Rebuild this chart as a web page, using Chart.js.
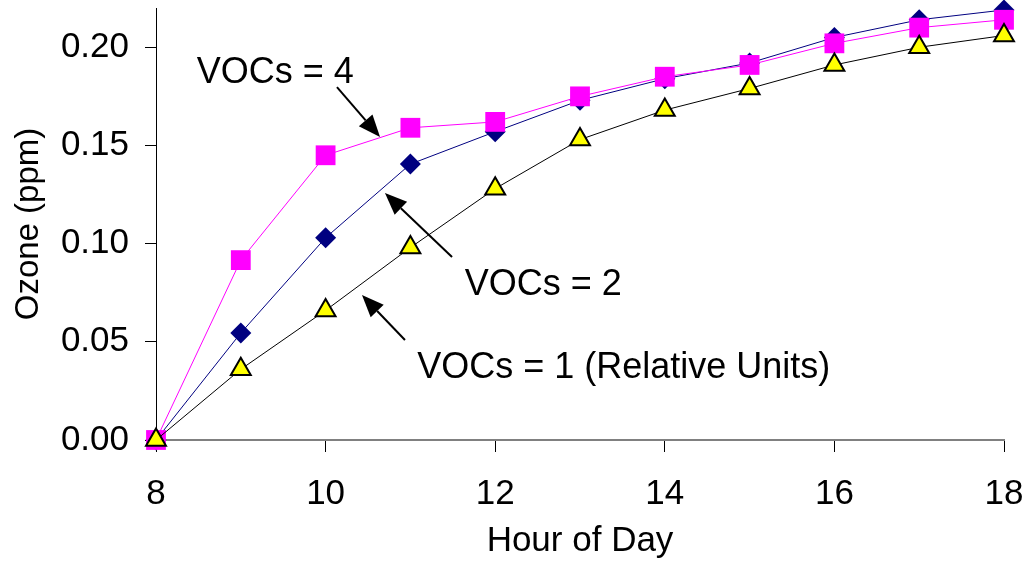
<!DOCTYPE html>
<html>
<head>
<meta charset="utf-8">
<script src="https://cdn.jsdelivr.net/npm/chart.js@4/dist/chart.umd.min.js"></script>
<style>
  html, body { margin: 0; padding: 0; background: #fff; }
  #wrap { width: 1031px; height: 563px; position: relative; }
</style>
</head>
<body>
<div id="wrap"><canvas id="myChart"></canvas></div>
<script>
// data
var hours = [8, 9, 10, 11, 12, 13, 14, 15, 16, 17, 18];
var voc1 = [0, 0.036, 0.066, 0.098, 0.128, 0.153, 0.168, 0.179, 0.191, 0.200, 0.206];
var voc2 = [0, 0.0545, 0.103, 0.1405, 0.157, 0.173, 0.184, 0.192, 0.205, 0.214, 0.219];
var voc4 = [0, 0.0916, 0.145, 0.159, 0.162, 0.175, 0.185, 0.191, 0.202, 0.210, 0.214];
var yTicks = [0, 0.05, 0.10, 0.15, 0.20];

var toPoints = function (ys) {
    return hours.map(function (h, i) { return { x: h, y: ys[i] }; });
};

// text labels with arrows (in data units)
var notes = [
    { text: 'VOCs = 4', x: 8.48, y: 0.1817, from: [10.134, 0.1797], to: [10.642, 0.1543] },
    { text: 'VOCs = 2', x: 11.64, y: 0.0738, from: [11.491, 0.0932], to: [10.70, 0.1258] },
    { text: 'VOCs = 1 (Relative Units)', x: 11.08, y: 0.0316, from: [10.936, 0.0509], to: [10.429, 0.0738] }
];

var notesPlugin = {
    id: 'notes',
    afterDraw: function (chart) {
        var c = chart.ctx, sx = chart.scales.x, sy = chart.scales.y;
        c.save();
        c.fillStyle = '#000';
        c.strokeStyle = '#000';
        c.font = '36px "Liberation Sans", Arial, sans-serif';
        c.textBaseline = 'alphabetic';
        c.textAlign = 'left';
        notes.forEach(function (n) {
            c.fillText(n.text, sx.getPixelForValue(n.x), sy.getPixelForValue(n.y));
            var x1 = sx.getPixelForValue(n.from[0]), y1 = sy.getPixelForValue(n.from[1]);
            var x2 = sx.getPixelForValue(n.to[0]), y2 = sy.getPixelForValue(n.to[1]);
            var a = Math.atan2(y2 - y1, x2 - x1);
            var hl = 22, hw = 9;
            var bx = x2 - hl * Math.cos(a), by = y2 - hl * Math.sin(a);
            c.lineWidth = 2;
            c.beginPath();
            c.moveTo(x1, y1);
            c.lineTo(bx, by);
            c.stroke();
            c.beginPath();
            c.moveTo(x2, y2);
            c.lineTo(bx + hw * Math.sin(a), by - hw * Math.cos(a));
            c.lineTo(bx - hw * Math.sin(a), by + hw * Math.cos(a));
            c.closePath();
            c.fill();
        });
        c.restore();
    }
};

Chart.defaults.font.family = '"Liberation Sans", Arial, sans-serif';
Chart.defaults.color = '#000';

var ctx = document.getElementById('myChart').getContext('2d');
var myChart = new Chart(ctx, {
    type: 'line',
    data: {
        datasets: [
            {
                label: 'VOCs = 1',
                data: toPoints(voc1),
                borderColor: '#000000',
                borderWidth: 1,
                pointStyle: 'triangle',
                pointRadius: 11.5,
                pointBackgroundColor: '#FFFF00',
                pointBorderColor: '#000000',
                pointBorderWidth: 2,
                clip: false
            },
            {
                label: 'VOCs = 4',
                data: toPoints(voc4),
                borderColor: '#FF00FF',
                borderWidth: 1,
                pointStyle: 'rect',
                pointRadius: 14,
                pointBackgroundColor: '#FF00FF',
                pointBorderColor: '#FF00FF',
                pointBorderWidth: 0,
                clip: false
            },
            {
                label: 'VOCs = 2',
                data: toPoints(voc2),
                borderColor: '#000080',
                borderWidth: 1,
                pointStyle: 'rectRot',
                pointRadius: 10.5,
                pointBackgroundColor: '#000080',
                pointBorderColor: '#000080',
                pointBorderWidth: 0,
                clip: false
            }
        ]
    },
    options: {
        responsive: true,
        maintainAspectRatio: false,
        animation: false,
        layout: { autoPadding: false, padding: { top: 8, right: 27, left: 0, bottom: 0 } },
        plugins: {
            legend: { display: false },
            tooltip: { enabled: false }
        },
        scales: {
            x: {
                type: 'linear',
                min: 8,
                max: 18,
                ticks: { stepSize: 2, font: { size: 35 }, padding: 21, maxRotation: 0 },
                grid: { drawOnChartArea: false, drawTicks: true, tickLength: 12, color: '#000' },
                border: { color: '#808080', width: 2 },
                title: { display: true, text: 'Hour of Day', font: { size: 35 }, padding: { top: 0, bottom: 1 } },
                afterFit: function (s) {
                    s.height = 123;
                    s.paddingLeft = 0;
                    s.paddingRight = 0;
                }
            },
            y: {
                min: 0,
                max: 0.22,
                afterBuildTicks: function (s) {
                    s.ticks = yTicks.map(function (v) { return { value: v }; });
                },
                ticks: {
                    font: { size: 35 },
                    padding: 16,
                    callback: function (v) { return Number(v).toFixed(2); }
                },
                grid: { drawOnChartArea: false, drawTicks: true, tickLength: 11, color: '#000' },
                border: { color: '#000', width: 1 },
                title: { display: true, text: 'Ozone (ppm)', font: { size: 33 }, padding: { top: 9, bottom: 0 } },
                afterFit: function (s) {
                    s.width = 156;
                    s.paddingTop = 0;
                    s.paddingBottom = 0;
                }
            }
        }
    },
    plugins: [notesPlugin]
});
</script>
</body>
</html>
